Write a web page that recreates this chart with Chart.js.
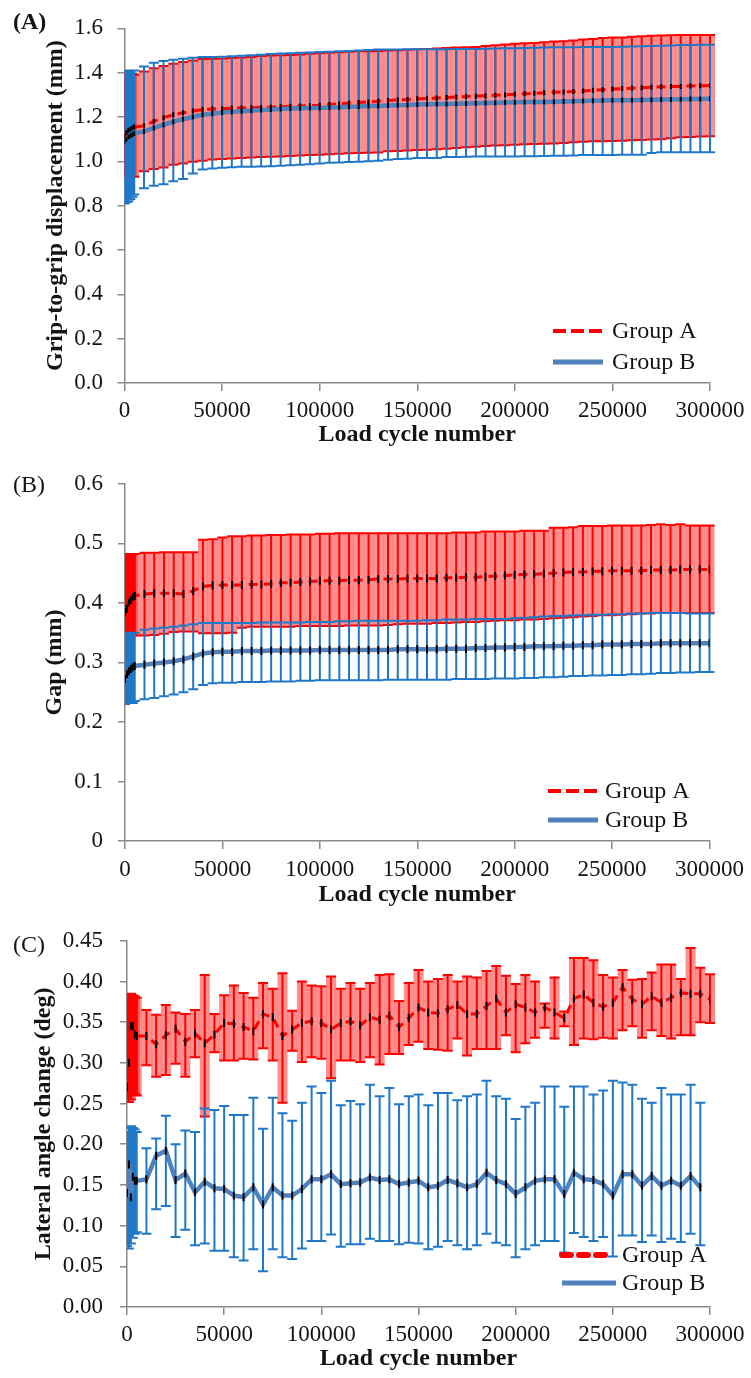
<!DOCTYPE html>
<html><head><meta charset="utf-8">
<script src="https://cdn.jsdelivr.net/npm/chart.js@4.4.0/dist/chart.umd.min.js"></script>
<style>
html,body{margin:0;padding:0;background:#fff;}
#wrap{position:relative;width:751px;height:1378px;overflow:hidden;background:#fff;}
canvas{position:absolute;left:0;}
</style></head><body>
<div id="wrap">
<canvas id="cA" width="751" height="455" style="top:0px"></canvas>
<canvas id="cB" width="751" height="455" style="top:455px"></canvas>
<canvas id="cC" width="751" height="468" style="top:910px"></canvas>
</div>
<script>
// ---------- categories (load cycle number) ----------
const cycles = [1,1000,2000,3000,4000,5000,10000,15000,20000,25000,
30000,35000,40000,45000,50000,55000,60000,65000,70000,75000,
80000,85000,90000,95000,100000,105000,110000,115000,120000,125000,
130000,135000,140000,145000,150000,155000,160000,165000,170000,175000,
180000,185000,190000,195000,200000,205000,210000,215000,220000,225000,
230000,235000,240000,245000,250000,255000,260000,265000,270000,275000,
280000,285000,290000,295000,300000];

const seriesNames = ['Group A','Group B'];
const xTickLabels = ['0','50000','100000','150000','200000','250000','300000'];
const yTickLabelsA = ['0.0','0.2','0.4','0.6','0.8','1.0','1.2','1.4','1.6'];
const yTickLabelsB = ['0','0.1','0.2','0.3','0.4','0.5','0.6'];
const yTickLabelsC = ['0.00','0.05','0.10','0.15','0.20','0.25','0.30','0.35','0.40','0.45'];

// ---------- (A) grip-to-grip displacement ----------
const aGroupA = [1.11,1.13,1.14,1.145,1.15,1.155,1.16,1.18,1.197,1.21,
1.219,1.227,1.234,1.236,1.237,1.239,1.241,1.242,1.243,1.244,
1.246,1.248,1.25,1.251,1.253,1.256,1.259,1.262,1.265,1.268,
1.271,1.274,1.277,1.279,1.282,1.284,1.286,1.288,1.29,1.292,
1.294,1.296,1.298,1.30,1.303,1.305,1.307,1.309,1.311,1.313,
1.315,1.317,1.32,1.323,1.326,1.328,1.33,1.332,1.334,1.336,
1.337,1.338,1.34,1.341,1.342];
const aGroupAHi = [1.39,1.395,1.395,1.395,1.395,1.39,1.405,1.42,1.43,1.44,
1.448,1.455,1.461,1.463,1.464,1.466,1.468,1.471,1.475,1.477,
1.478,1.48,1.482,1.485,1.488,1.49,1.492,1.494,1.496,1.497,
1.498,1.5,1.501,1.503,1.505,1.507,1.509,1.511,1.513,1.515,
1.516,1.52,1.524,1.527,1.53,1.532,1.534,1.537,1.54,1.542,
1.545,1.549,1.552,1.556,1.558,1.559,1.562,1.564,1.566,1.567,
1.569,1.57,1.57,1.57,1.57];
const aGroupALo = [0.93,0.93,0.93,0.93,0.93,0.93,0.955,0.965,0.972,0.985,
0.99,0.998,1.003,1.008,1.01,1.013,1.015,1.017,1.019,1.021,
1.022,1.024,1.026,1.028,1.03,1.032,1.034,1.036,1.038,1.039,
1.04,1.045,1.047,1.049,1.051,1.052,1.054,1.057,1.06,1.063,
1.066,1.069,1.071,1.073,1.075,1.077,1.078,1.079,1.08,1.083,
1.086,1.088,1.09,1.091,1.092,1.093,1.095,1.096,1.098,1.1,
1.104,1.108,1.11,1.112,1.113];
const aGroupB = [1.09,1.10,1.11,1.115,1.12,1.125,1.135,1.15,1.165,1.178,
1.19,1.20,1.21,1.215,1.22,1.223,1.226,1.229,1.232,1.234,
1.236,1.238,1.239,1.24,1.241,1.243,1.244,1.246,1.247,1.249,
1.25,1.252,1.253,1.254,1.256,1.257,1.258,1.259,1.26,1.261,
1.262,1.263,1.264,1.265,1.266,1.267,1.268,1.268,1.269,1.27,
1.271,1.272,1.273,1.274,1.275,1.276,1.276,1.277,1.278,1.279,
1.279,1.28,1.281,1.281,1.282];
const aGroupBHi = [1.405,1.408,1.41,1.41,1.41,1.41,1.428,1.445,1.452,1.458,
1.463,1.467,1.47,1.471,1.472,1.474,1.476,1.478,1.481,1.484,
1.486,1.488,1.49,1.491,1.493,1.494,1.496,1.498,1.5,1.502,
1.504,1.504,1.504,1.505,1.505,1.505,1.506,1.506,1.507,1.507,
1.507,1.508,1.509,1.51,1.51,1.511,1.512,1.513,1.514,1.515,
1.515,1.516,1.516,1.516,1.516,1.517,1.518,1.519,1.52,1.521,
1.522,1.525,1.525,1.526,1.526];
const aGroupBLo = [0.81,0.815,0.82,0.83,0.84,0.85,0.879,0.89,0.897,0.91,
0.92,0.945,0.963,0.968,0.971,0.973,0.975,0.976,0.977,0.978,
0.98,0.982,0.984,0.987,0.99,0.993,0.995,0.997,0.998,1.0,
1.003,1.007,1.01,1.012,1.015,1.015,1.015,1.02,1.02,1.021,
1.022,1.022,1.022,1.022,1.022,1.023,1.023,1.024,1.025,1.025,
1.026,1.029,1.029,1.029,1.029,1.03,1.03,1.03,1.038,1.041,
1.041,1.041,1.041,1.041,1.041];

// ---------- (B) gap ----------
const bGroupA = [0.385,0.39,0.40,0.405,0.41,0.412,0.415,0.416,0.416,0.416,
0.415,0.42,0.428,0.429,0.43,0.43,0.43,0.431,0.431,0.432,
0.434,0.434,0.435,0.436,0.437,0.437,0.437,0.438,0.438,0.439,
0.44,0.44,0.44,0.441,0.441,0.441,0.441,0.442,0.442,0.443,
0.443,0.444,0.445,0.446,0.447,0.448,0.448,0.449,0.45,0.451,
0.452,0.452,0.453,0.453,0.454,0.454,0.454,0.454,0.455,0.455,
0.455,0.456,0.456,0.456,0.456];
const bGroupAHi = [0.482,0.482,0.482,0.482,0.482,0.482,0.484,0.484,0.485,0.485,
0.485,0.485,0.506,0.507,0.51,0.512,0.512,0.513,0.513,0.514,
0.514,0.515,0.515,0.515,0.516,0.516,0.517,0.517,0.517,0.517,
0.517,0.517,0.517,0.517,0.517,0.517,0.517,0.517,0.518,0.518,
0.518,0.52,0.52,0.52,0.52,0.521,0.521,0.521,0.526,0.526,
0.527,0.529,0.529,0.529,0.53,0.53,0.53,0.53,0.531,0.532,
0.531,0.532,0.53,0.53,0.53];
const bGroupALo = [0.345,0.345,0.345,0.345,0.345,0.345,0.345,0.346,0.348,0.351,
0.352,0.352,0.349,0.349,0.349,0.35,0.358,0.36,0.36,0.36,
0.36,0.36,0.361,0.361,0.361,0.361,0.361,0.362,0.362,0.362,
0.362,0.363,0.364,0.365,0.365,0.365,0.366,0.366,0.367,0.368,
0.368,0.369,0.37,0.371,0.371,0.372,0.372,0.373,0.374,0.375,
0.376,0.377,0.378,0.379,0.379,0.38,0.381,0.382,0.382,0.383,
0.383,0.383,0.383,0.383,0.383];
const bGroupB = [0.272,0.28,0.285,0.289,0.292,0.294,0.296,0.298,0.3,0.302,
0.305,0.31,0.315,0.317,0.318,0.318,0.319,0.319,0.319,0.32,
0.32,0.32,0.32,0.32,0.321,0.321,0.321,0.321,0.321,0.321,
0.321,0.321,0.322,0.322,0.322,0.322,0.322,0.323,0.323,0.323,
0.324,0.324,0.325,0.325,0.326,0.326,0.327,0.327,0.327,0.328,
0.328,0.329,0.329,0.33,0.33,0.33,0.331,0.331,0.331,0.332,
0.332,0.332,0.332,0.332,0.332];
const bGroupBHi = [0.35,0.35,0.35,0.35,0.35,0.35,0.355,0.357,0.358,0.36,
0.362,0.364,0.366,0.366,0.366,0.366,0.366,0.366,0.367,0.367,
0.367,0.367,0.367,0.368,0.368,0.368,0.369,0.369,0.37,0.37,
0.37,0.37,0.37,0.37,0.37,0.371,0.371,0.372,0.372,0.372,
0.373,0.373,0.373,0.373,0.374,0.375,0.376,0.377,0.378,0.378,
0.379,0.379,0.38,0.38,0.381,0.381,0.382,0.382,0.383,0.383,
0.383,0.383,0.382,0.382,0.382];
const bGroupBLo = [0.23,0.232,0.232,0.232,0.232,0.235,0.238,0.24,0.243,0.246,
0.25,0.255,0.262,0.265,0.266,0.266,0.267,0.267,0.267,0.268,
0.268,0.268,0.269,0.269,0.27,0.27,0.27,0.27,0.27,0.27,
0.27,0.271,0.271,0.271,0.271,0.271,0.271,0.271,0.272,0.272,
0.272,0.272,0.273,0.273,0.273,0.274,0.274,0.275,0.275,0.276,
0.277,0.277,0.278,0.278,0.279,0.279,0.28,0.28,0.281,0.282,
0.282,0.283,0.283,0.284,0.284];

// ---------- (C) lateral angle change ----------
const cGroupA = [0.27,0.30,0.345,0.345,0.335,0.333,0.333,0.323,0.334,0.342,
0.326,0.336,0.324,0.335,0.349,0.348,0.344,0.339,0.36,0.356,
0.333,0.341,0.349,0.351,0.349,0.341,0.349,0.351,0.346,0.356,
0.353,0.358,0.344,0.355,0.368,0.362,0.361,0.366,0.371,0.36,
0.36,0.37,0.379,0.362,0.372,0.368,0.362,0.368,0.362,0.355,
0.379,0.384,0.374,0.369,0.374,0.393,0.378,0.372,0.382,0.374,
0.38,0.386,0.385,0.385,0.378];
const cGroupAHi = [0.38,0.383,0.385,0.383,0.382,0.38,0.365,0.359,0.371,0.362,
0.36,0.365,0.408,0.36,0.383,0.395,0.386,0.38,0.398,0.391,
0.41,0.364,0.40,0.395,0.394,0.406,0.391,0.398,0.391,0.398,
0.408,0.409,0.376,0.398,0.414,0.40,0.403,0.408,0.40,0.406,
0.405,0.413,0.419,0.407,0.397,0.408,0.40,0.373,0.405,0.363,
0.429,0.429,0.426,0.408,0.405,0.414,0.402,0.403,0.411,0.421,
0.421,0.403,0.441,0.417,0.409];
const cGroupALo = [0.255,0.252,0.255,0.26,0.262,0.26,0.297,0.283,0.285,0.299,
0.283,0.307,0.234,0.313,0.303,0.303,0.305,0.304,0.318,0.303,
0.251,0.315,0.301,0.307,0.305,0.281,0.303,0.303,0.301,0.307,
0.298,0.311,0.311,0.322,0.326,0.317,0.316,0.315,0.33,0.309,
0.317,0.317,0.317,0.334,0.313,0.324,0.331,0.343,0.33,0.345,
0.322,0.33,0.329,0.331,0.33,0.34,0.345,0.331,0.34,0.333,
0.33,0.334,0.334,0.35,0.349];
const cGroupB = [0.14,0.175,0.135,0.16,0.155,0.155,0.157,0.186,0.192,0.156,
0.164,0.141,0.154,0.146,0.145,0.137,0.135,0.147,0.126,0.147,
0.137,0.137,0.145,0.157,0.157,0.163,0.151,0.152,0.153,0.159,
0.156,0.157,0.151,0.153,0.155,0.147,0.149,0.156,0.152,0.147,
0.151,0.165,0.156,0.151,0.139,0.147,0.155,0.157,0.157,0.139,
0.165,0.157,0.156,0.151,0.137,0.163,0.163,0.149,0.161,0.149,
0.155,0.149,0.161,0.147,null];
const cGroupBHi = [0.215,0.22,0.222,0.22,0.218,0.215,0.195,0.207,0.235,0.20,
0.217,0.215,0.244,0.242,0.247,0.236,0.236,0.257,0.219,0.257,
0.238,0.229,0.251,0.271,0.263,0.278,0.248,0.253,0.249,0.273,
0.259,0.269,0.249,0.259,0.261,0.248,0.263,0.263,0.254,0.259,
0.261,0.278,0.259,0.256,0.231,0.246,0.251,0.271,0.271,0.246,
0.271,0.271,0.261,0.266,0.278,0.276,0.273,0.256,0.251,0.269,
0.261,0.261,0.273,0.251,null];
const cGroupBLo = [0.075,0.072,0.078,0.085,0.09,0.092,0.09,0.12,0.124,0.086,
0.095,0.076,0.078,0.069,0.069,0.061,0.057,0.071,0.044,0.071,
0.061,0.059,0.072,0.081,0.081,0.089,0.074,0.077,0.077,0.084,
0.081,0.081,0.077,0.079,0.078,0.071,0.074,0.081,0.076,0.071,
0.076,0.09,0.079,0.076,0.061,0.071,0.076,0.081,0.081,0.067,
0.091,0.086,0.081,0.086,0.062,0.088,0.088,0.08,0.088,0.08,
0.084,0.08,0.09,0.076,null];

// ---------- styling ----------
const F = '"Liberation Serif", "Times New Roman", serif';
const AX = '#8a8a8a';
const TXT = '#141414';
const RED = '#ff0000';
const BLUE_LINE = '#4f81bd';
const BLUE_ERR = '#1f77c8';

const errorBarPlugin = {
  id: 'errbars',
  beforeDatasetsDraw(chart) {
    const {ctx, chartArea, scales: {x, y}} = chart;
    const cap = 10;
    ctx.save();
    ctx.beginPath();
    ctx.rect(chartArea.left, 0, chartArea.right - chartArea.left + 8, chart.height);
    ctx.clip();
    chart.data.datasets.forEach(ds => {
      if (!ds.errHi) return;
      const pts = [];
      ds.data.forEach((p, j) => {
        const hi = ds.errHi[j], lo = ds.errLo[j];
        if (p.y == null || hi == null || lo == null) return;
        pts.push([x.getPixelForValue(p.x), y.getPixelForValue(hi), y.getPixelForValue(lo)]);
      });
      if (ds.errFill) {
        ctx.fillStyle = ds.errFill;
        pts.forEach(([px, pt, pb]) => ctx.fillRect(px - cap / 2, pt, cap, pb - pt));
      }
      ctx.strokeStyle = ds.errColor;
      ctx.lineWidth = ds.errWidth;
      ctx.beginPath();
      pts.forEach(([px, pt, pb]) => {
        ctx.moveTo(px, pt); ctx.lineTo(px, pb);
        ctx.moveTo(px - cap / 2, pt); ctx.lineTo(px + cap / 2, pt);
        ctx.moveTo(px - cap / 2, pb); ctx.lineTo(px + cap / 2, pb);
      });
      ctx.stroke();
    });
    ctx.restore();
  }
};

const cornerLegend = {
  id: 'cornerLegend',
  afterDraw(chart, args, o) {
    const ctx = chart.ctx;
    ctx.save();
    const ds = chart.data.datasets;
    o.items.forEach((it, i) => {
      const d = ds[i];
      ctx.strokeStyle = d.borderColor;
      ctx.lineWidth = it.w;
      ctx.lineCap = it.cap || 'butt';
      ctx.setLineDash(it.dash || []);
      ctx.beginPath(); ctx.moveTo(o.x0, it.y); ctx.lineTo(it.x1 || o.x1, it.y); ctx.stroke();
      ctx.setLineDash([]);
      ctx.fillStyle = TXT;
      ctx.font = '24px ' + F;
      ctx.textBaseline = 'middle';
      ctx.textAlign = 'left';
      ctx.fillText(d.label, o.tx, it.y + 1);
    });
    ctx.font = o.panelFont;
    ctx.fillStyle = TXT;
    ctx.textBaseline = 'middle';
    ctx.textAlign = 'left';
    ctx.fillText(o.panel, 13, o.py);
    ctx.restore();
  }
};

function build(id, p) {
  const mk = (arr) => cycles.map((c, i) => ({x: c, y: arr[i]}));
  const datasets = [
    {label: seriesNames[0], data: mk(p.a), errHi: p.aHi, errLo: p.aLo,
     errColor: RED, errWidth: 2, errFill: 'rgba(255,30,30,0.5)',
     borderColor: RED, borderWidth: 3, borderDash: [9, 6], order: 2,
     pointStyle: 'line', rotation: 90, pointRadius: p.mk, pointBorderColor: '#000', pointBackgroundColor: '#000', pointBorderWidth: 2,
     tension: 0, spanGaps: false},
    {label: seriesNames[1], data: mk(p.b), errHi: p.bHi, errLo: p.bLo,
     errColor: BLUE_ERR, errWidth: 2,
     borderColor: BLUE_LINE, borderWidth: 4.5, order: 1,
     pointStyle: 'line', rotation: 90, pointRadius: p.mk, pointBorderColor: '#000', pointBackgroundColor: '#000', pointBorderWidth: 2,
     tension: 0, spanGaps: false}
  ];
  new Chart(document.getElementById(id), {
    type: 'line',
    data: {datasets},
    plugins: [errorBarPlugin, cornerLegend],
    options: {
      responsive: false, animation: false, devicePixelRatio: 1,
      layout: {padding: {left: 0, right: 41, top: p.top, bottom: 0}},
      plugins: {legend: {display: false}, tooltip: {enabled: false},
        cornerLegend: p.legend},
      scales: {
        x: {type: 'linear', min: 0, max: 300000,
          afterFit(s) { s.height = p.xH; },
          ticks: {stepSize: 50000, autoSkip: false, maxRotation: 0, padding: p.xPad, color: TXT,
            font: {family: F, size: 23, lineHeight: 1.2},
            callback: v => xTickLabels[Math.round(v / 50000)]},
          grid: {drawOnChartArea: false, drawTicks: true, tickLength: 8, color: AX, lineWidth: 1.5},
          border: {display: true, color: AX, width: 1.5},
          title: {display: true, text: 'Load cycle number', color: TXT,
            font: {family: F, size: 24, weight: 'bold', lineHeight: 1.2}, padding: {top: 0, bottom: p.xtPad}}},
        y: {min: 0, max: p.yMax,
          afterFit(s) { s.width = p.left; },
          ticks: {stepSize: p.step, autoSkip: false, padding: p.yPad, color: TXT,
            font: {family: F, size: 23, lineHeight: 1.2},
            callback: v => p.yLabels[Math.round(v / p.step)]},
          grid: {drawOnChartArea: false, drawTicks: true, tickLength: 7, color: AX, lineWidth: 1.5},
          border: {display: true, color: AX, width: 1.5},
          title: {display: true, text: p.yTitle, color: TXT,
            font: {family: F, size: 24, weight: 'bold', lineHeight: 1.2}, padding: {top: p.ytPad, bottom: 0}}}
      }
    }
  });
}

build('cA', {a: aGroupA, aHi: aGroupAHi, aLo: aGroupALo, b: aGroupB, bHi: aGroupBHi, bLo: aGroupBLo,
  mk: 2.5, top: 18, xH: 72, left: 124.5, xPad: 6.5, xtPad: 5.6, yPad: 14.5, ytPad: 41.6,
  yMax: 1.6, step: 0.2, yLabels: yTickLabelsA, yTitle: 'Grip-to-grip displacement (mm)',
  legend: {x0: 553, x1: 603, tx: 612, panel: '(A)', panelFont: 'bold 24px ' + F, py: 23,
    items: [{y: 331, w: 4, dash: [13, 5]}, {y: 362, w: 5}]}});

build('cB', {a: bGroupA, aHi: bGroupAHi, aLo: bGroupALo, b: bGroupB, bHi: bGroupBHi, bLo: bGroupBLo,
  mk: 4, top: 23, xH: 69, left: 125, xPad: 7, xtPad: 0.6, yPad: 15, ytPad: 40.6,
  yMax: 0.6, step: 0.1, yLabels: yTickLabelsB, yTitle: 'Gap (mm)',
  legend: {x0: 548, x1: 598, tx: 605, panel: '(B)', panelFont: '24px ' + F, py: 31,
    items: [{y: 336, w: 4, dash: [13, 5]}, {y: 365, w: 5}]}});

build('cC', {a: cGroupA, aHi: cGroupAHi, aLo: cGroupALo, b: cGroupB, bHi: cGroupBHi, bLo: cGroupBLo,
  mk: 4, top: 28, xH: 71, left: 127, xPad: 6, xtPad: 4.6, yPad: 17, ytPad: 29.6,
  yMax: 0.45, step: 0.05, yLabels: yTickLabelsC, yTitle: 'Lateral angle change (deg)',
  legend: {x0: 562, x1: 612, tx: 622, panel: '(C)', panelFont: '24px ' + F, py: 36,
    items: [{y: 345, w: 6, dash: [9, 8], cap: 'round'}, {y: 373, w: 5, x1: 616}]}});
</script>
</body></html>
